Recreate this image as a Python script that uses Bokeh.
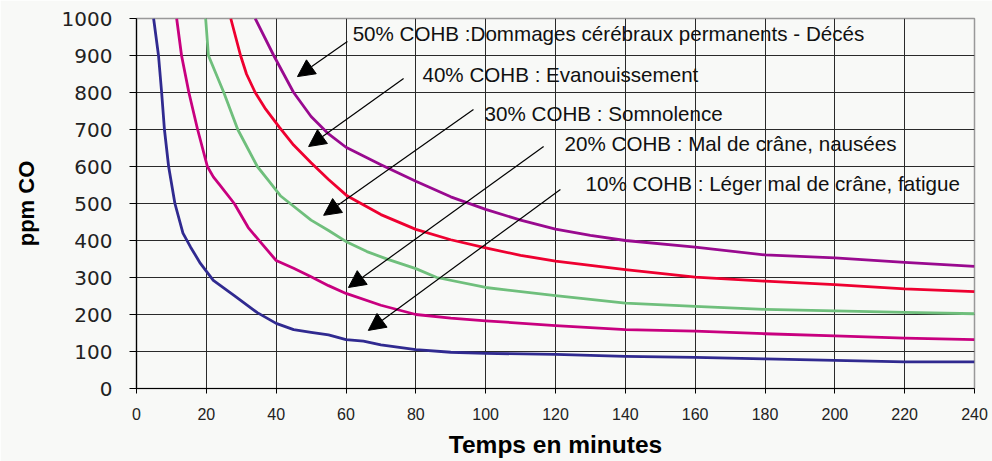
from bokeh.plotting import figure
from bokeh.models import Range1d, SingleIntervalTicker, Label, Arrow, NormalHead
from bokeh.embed import file_html
from bokeh.resources import INLINE

# ---- data ----
t_10 = [4.9, 6.3, 7.2, 8.0, 9.2, 11.0, 13.3, 15.5, 18.3, 22, 28, 34.6, 40, 45, 50, 55, 60, 65, 70, 80, 90, 100, 120, 140, 160, 180, 200, 220, 240]
ppm_10 = [1000, 900, 800, 700, 600, 500, 420, 382, 338, 292, 251, 205, 176, 159, 152, 145, 132, 128, 118, 105, 98, 95, 92, 87, 84, 80, 76, 72, 72]

t_20 = [11.5, 12.9, 15, 17.5, 20.3, 22, 24, 28, 32, 36, 40, 45, 50, 55, 60, 70, 80, 90, 100, 120, 140, 160, 180, 200, 220, 240]
ppm_20 = [1000, 900, 800, 700, 600, 572, 548, 500, 435, 390, 346, 325, 302, 278, 257, 225, 200, 190, 183, 170, 159, 155, 148, 142, 136, 132]

t_30 = [19.8, 20.6, 25, 29, 34.6, 38, 41.2, 44, 50, 55, 60.4, 66, 72, 80, 86, 100, 120, 140, 160, 180, 200, 220, 240]
ppm_30 = [1000, 900, 800, 700, 600, 560, 521, 500, 455, 427, 395, 370, 349, 324, 300, 273, 251, 231, 222, 214, 210, 206, 202]

t_40 = [27, 29.8, 31.5, 34, 37, 41, 45, 50, 55, 60.4, 70, 80, 90, 100, 110, 120, 140, 160, 180, 200, 220, 240]
ppm_40 = [1000, 900, 850, 800, 755, 705, 658, 610, 565, 520, 470, 430, 402, 380, 360, 344, 321, 301, 290, 281, 269, 262]

t_50 = [34, 39.3, 45, 50, 55, 60, 70, 80, 90, 100, 110, 120, 130, 140, 160, 180, 200, 220, 240]
ppm_50 = [1000, 900, 800, 735, 688, 652, 605, 560, 518, 484, 455, 431, 414, 400, 382, 361, 353, 341, 330]

labels = [
    "50% COHB :Dommages cérébraux permanents - Décés",
    "40% COHB : Evanouissement",
    "30% COHB : Somnolence",
    "20% COHB : Mal de crâne, nausées",
    "10% COHB : Léger mal de crâne, fatigue",
]

x_title = "Temps en minutes"
y_title = "ppm CO"

# annotation placement (data units)
label_x = [61.9, 81.9, 99.7, 122.6, 128.6]
label_y = [959, 849, 743, 662, 554]
arrow_tail_x = [60.4, 76.5, 96.5, 116.6, 121.4]
arrow_tail_y = [938, 838, 754, 654, 538]
arrow_head_x = [46.1, 49.3, 53.6, 60.7, 66.4]
arrow_head_y = [843, 654, 468, 273, 157]

BG = "#f8f9f7"

p = figure(width=992, height=461, output_backend="svg", toolbar_location=None,
           x_range=Range1d(0, 240), y_range=Range1d(0, 1000),
           min_border_left=136, min_border_right=18, min_border_top=18, min_border_bottom=73)
p.background_fill_color = BG
p.border_fill_color = BG
p.outline_line_color = "#999999"
p.outline_line_width = 1.5

series = [
    (t_10, ppm_10, "#302a90"),
    (t_20, ppm_20, "#c8007f"),
    (t_30, ppm_30, "#6fbf7c"),
    (t_40, ppm_40, "#ee0030"),
    (t_50, ppm_50, "#990a8f"),
]
for xs, ys, c in series:
    p.line(xs, ys, line_color=c, line_width=2.8, line_join="round")

p.xaxis.ticker = SingleIntervalTicker(interval=20)
p.yaxis.ticker = SingleIntervalTicker(interval=100)
p.xgrid.ticker = SingleIntervalTicker(interval=20)
p.ygrid.ticker = SingleIntervalTicker(interval=100)
for g in (p.xgrid, p.ygrid):
    g.grid_line_color = "#2a2a2a"
    g.grid_line_width = 1

for ax in (p.xaxis, p.yaxis):
    ax.axis_line_color = "black"
    ax.axis_line_width = 1.2
    ax.major_tick_line_color = "black"
    ax.minor_tick_line_color = None
    ax.major_tick_in = 0
    ax.major_label_text_color = "#222222"
    ax.axis_label_text_color = "black"
    ax.axis_label_text_font_style = "bold"

p.xaxis.major_tick_out = 5
p.xaxis.major_label_standoff = 14
p.xaxis.major_label_text_font = "Liberation Sans"
p.xaxis.major_label_text_font_size = "16px"
p.xaxis.axis_label = x_title
p.xaxis.axis_label_text_font = "Liberation Sans"
p.xaxis.axis_label_text_font_size = "24.5px"
p.xaxis.axis_label_standoff = 8

p.yaxis.major_tick_out = 7
p.yaxis.major_label_standoff = 17
p.yaxis.major_label_text_font = "DejaVu Sans"
p.yaxis.major_label_text_font_size = "20px"
p.yaxis.axis_label = y_title
p.yaxis.axis_label_text_font = "Liberation Sans"
p.yaxis.axis_label_text_font_size = "22px"
p.yaxis.axis_label_standoff = 20

for i, txt in enumerate(labels):
    p.add_layout(Label(x=label_x[i], y=label_y[i], text=txt, text_align="left",
                       text_baseline="middle", text_font="Liberation Sans",
                       text_font_size="20.6px", text_color="#111111"))
    p.add_layout(Arrow(x_start=arrow_tail_x[i], y_start=arrow_tail_y[i],
                       x_end=arrow_head_x[i], y_end=arrow_head_y[i],
                       line_color="black", line_width=1.2,
                       end=NormalHead(size=17, fill_color="black", line_color="black")))

open("out.html", "w").write(file_html(p, INLINE))
